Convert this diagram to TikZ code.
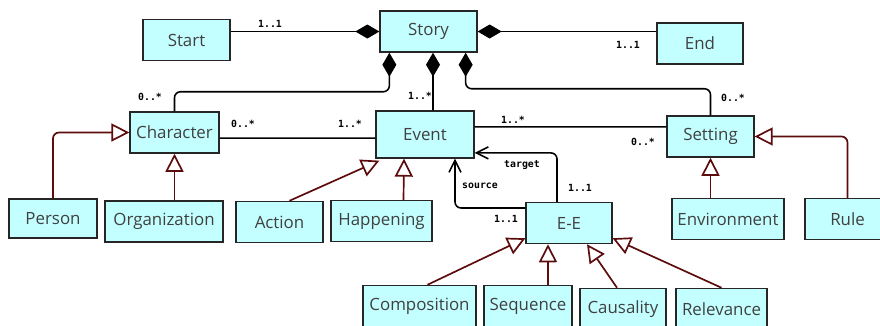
\documentclass[tikz,border=0pt]{standalone}
\usepackage{fontspec}
\setmainfont{Open Sans}
\newfontfamily\multfont{DejaVu Sans Mono}
\usetikzlibrary{arrows.meta}
\definecolor{clsfill}{RGB}{196,255,255}
\definecolor{genred}{RGB}{92,12,12}

\begin{document}
\begin{tikzpicture}[
  x=0.025cm, y=-0.025cm,
  cls/.style={draw=black!85, line width=0.9pt, fill=clsfill, minimum height=1.03cm, inner sep=2pt, text=black!75, font=\fontsize{12}{14}\selectfont},
  mult/.style={inner sep=0pt, font=\multfont\bfseries\fontsize{7}{8}\selectfont},
  comp/.style={line width=1.1pt, rounded corners=0.15cm, {Diamond[length=0.6cm, width=0.35cm]}-},
  gen/.style={draw=genred, line width=1.2pt, rounded corners=0.15cm, -{Triangle[open, length=0.45cm, width=0.45cm, fill=white]}},
  nav/.style={line width=1.1pt, rounded corners=0.15cm, -{Straight Barb[length=0.3cm, width=0.3cm]}}
]
  \useasboundingbox (0,0) rectangle (880,325);

  \node[cls, minimum width=2.175cm] (start) at (186.5,40) {Start};
  \node[cls, minimum width=2.425cm] (story) at (428.5,31.5) {Story};
  \node[cls, minimum width=2.15cm] (finish) at (700,43.5) {End};
  \node[cls, minimum width=2.225cm] (character) at (174.5,132.5) {Character};
  \node[cls, minimum width=2.45cm, minimum height=1.175cm] (event) at (425,134.5) {Event};
  \node[cls, minimum width=2.175cm] (setting) at (710.5,136.5) {Setting};
  \node[cls, minimum width=2.2cm, minimum height=0.975cm] (person) at (53,218.5) {Person};
  \node[cls, minimum width=2.95cm] (organization) at (164,221.5) {Organization};
  \node[cls, minimum width=2.175cm] (action) at (279.5,222) {Action};
  \node[cls, minimum width=2.525cm] (happening) at (381.5,221) {Happening};
  \node[cls, minimum width=2.15cm] (ee) at (569,223) {E-E};
  \node[cls, minimum width=2.8cm] (environment) at (728,219) {Environment};
  \node[cls, minimum width=2.125cm] (rule) at (847.5,219) {Rule};
  \node[cls, minimum width=2.825cm] (composition) at (419.5,306) {Composition};
  \node[cls, minimum width=2.2cm] (sequence) at (528,306) {Sequence};
  \node[cls, minimum width=2.15cm] (causality) at (623,309) {Causality};
  \node[cls, minimum width=2.275cm] (relevance) at (721.5,309) {Relevance};

  \draw[comp] (story.west) -- (start.east |- story.west);
  \draw[comp] (story.east) -- (finish.west |- story.east);
  \draw[comp] ([xshift=0.25cm]story.south west) -- ++(0,39) -| (character.north);
  \draw[comp] ([xshift=0.1125cm]story.south) -- ([xshift=0.2cm]event.north);
  \draw[comp] ([xshift=-0.3cm]story.south east) -- ++(0,36) -| (setting.north);

  \draw[line width=1.1pt] ([yshift=-0.14cm]character.east) -- ([yshift=-0.09cm]event.west);
  \draw[line width=1.1pt] ([yshift=0.19cm]event.east) -- ([yshift=0.24cm]setting.west);

  \draw[gen] (person.north) |- (character.west);
  \draw[gen] (organization.north -| character.south) -- (character.south);
  \draw[gen] ([xshift=0.25cm]action.north) -- ([xshift=0.1cm, yshift=-0.05cm]event.south west);
  \draw[gen] ([xshift=0.55cm]happening.north) -- ([xshift=-0.525cm]event.south);
  \draw[gen] (environment.north -| setting.south) -- (setting.south);
  \draw[gen] (rule.north) |- (setting.east);
  \draw[gen] ([xshift=0.2cm]composition.north) -- ([yshift=0.15cm]ee.south west);
  \draw[gen] ([xshift=0.5cm]sequence.north) -- ([xshift=-0.525cm]ee.south);
  \draw[gen] ([xshift=-0.15cm]causality.north) -- ([xshift=0.45cm]ee.south);
  \draw[gen] (relevance.north) -- ([yshift=0.15cm]ee.south east);

  \draw[nav] ([yshift=0.375cm]ee.west) -| ([xshift=0.75cm]event.south);
  \draw[nav] ([xshift=-0.3cm]ee.north) |- ([yshift=-0.46cm]event.east);

  \node[mult] (mStart) at (270,24) {1..1};
  \node[mult] (mEnd) at (628,45) {1..1};
  \node[mult] (mChar) at (150,97) {0..*};
  \node[mult] (mEvent) at (420,96) {1..*};
  \node[mult] (mSet) at (733,98) {0..*};
  \node[mult] (mCE1) at (243,124) {0..*};
  \node[mult] (mCE2) at (350,124) {1..*};
  \node[mult] (mES1) at (513,120) {1..*};
  \node[mult] (mES2) at (643,142) {0..*};
  \node[mult] (mTarget) at (522,165) {target};
  \node[mult] (mSource) at (480,186) {source};
  \node[mult] (mTgtM) at (580,188) {1..1};
  \node[mult] (mSrcM) at (506,219) {1..1};
\end{tikzpicture}
\end{document}
